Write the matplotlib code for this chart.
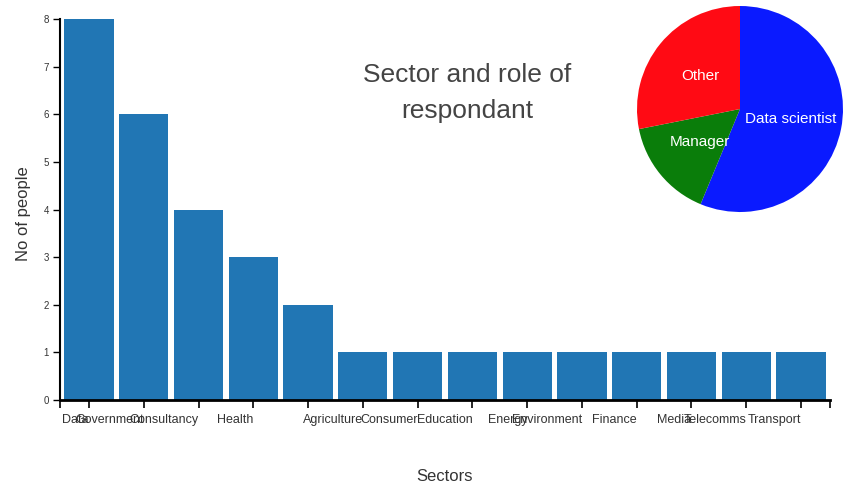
import matplotlib
matplotlib.use("Agg")
import matplotlib.pyplot as plt
import numpy as np

# Data
sectors = ["Data", "Government", "Consultancy", "Health", "", "Agriculture", "Consumer",
           "Education", "Energy", "Environment", "Finance", "Media", "Telecomms", "Transport"]
counts = [8, 6, 4, 3, 2, 1, 1, 1, 1, 1, 1, 1, 1, 1]
roles = ["Data scientist", "Manager", "Other"]
role_counts = [18, 5, 9]
role_colors = ["#0a1aff", "#0a7d0a", "#ff0a14"]

plt.rcParams['font.family'] = ['Liberation Sans', 'DejaVu Sans']

fig = plt.figure(figsize=(8.46, 4.83), dpi=100)
ax = fig.add_axes([60/846, 1-400/483, 770/846, 381/483])

x = np.arange(len(sectors))
ax.bar(x, counts, width=0.9, color="#2176b4")
ax.set_xlim(-0.53, len(sectors) - 0.47)
ax.set_ylim(0, 8)
ax.set_yticks(range(0, 9))
ax.set_yticklabels([str(v) for v in range(0, 9)], fontsize=7, color="#333333")
ax.set_xticks(x)
ax.set_xticklabels(sectors, fontsize=9, color="#333333", ha="right", va="baseline")
ax.set_xticks([-0.53, len(sectors) - 0.47], minor=True)
ax.tick_params(axis='x', which='both', length=6, width=1.2, pad=10.5)
ax.tick_params(axis='y', length=5, width=1.0, pad=3)
for s in ["top", "right"]:
    ax.spines[s].set_visible(False)
ax.spines["bottom"].set_linewidth(2)
ax.spines["left"].set_linewidth(1.5)

ax.set_xlabel("Sectors", fontsize=12, color="#333333")
ax.xaxis.set_label_coords(0.5, -0.18)
ax.set_ylabel("No of people", fontsize=12, color="#333333")
ax.yaxis.set_label_coords(-0.038, 0.49)

fig.text(467/846, 1-93/483, "Sector and role of\nrespondant", ha="center", va="center",
         fontsize=19, color="#444444", linespacing=1.65)

# Pie
pax = fig.add_axes([637/846, 1-212/483, 206/846, 206/483])
wedges, texts = pax.pie(role_counts, labels=roles, colors=role_colors, startangle=90,
                        counterclock=False, labeldistance=0.5, radius=1,
                        textprops=dict(color="white", fontsize=11))
for t in texts:
    t.set_horizontalalignment("center")
    t.set_verticalalignment("center")
pax.set_xlim(-1, 1)
pax.set_ylim(-1, 1)
pax.set_aspect("equal")

fig.savefig("out.png", dpi=100)
